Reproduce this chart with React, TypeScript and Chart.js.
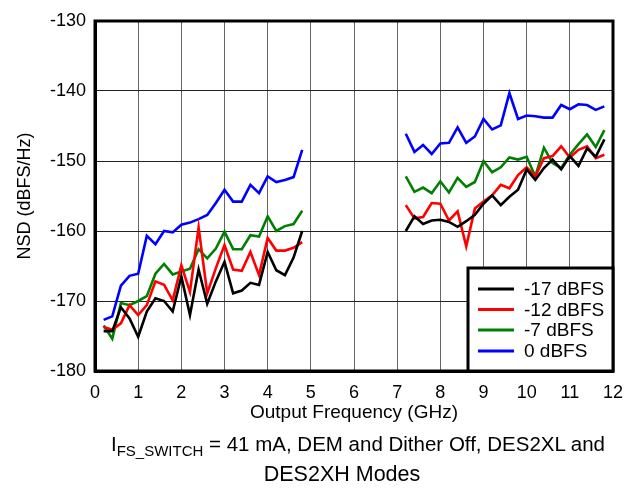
import React, { useEffect, useRef } from "react";
import { Chart, registerables } from "chart.js";

Chart.register(...registerables);

// Output frequency (GHz) of the two measured bands
const lowFreq = [0.2, 0.4, 0.6, 0.8, 1.0, 1.2, 1.4, 1.6, 1.8, 2.0, 2.2, 2.4, 2.6, 2.8, 3.0, 3.2, 3.4, 3.6, 3.8, 4.0, 4.2, 4.4, 4.6, 4.8];
const highFreq = [7.2, 7.4, 7.6, 7.8, 8.0, 8.2, 8.4, 8.6, 8.8, 9.0, 9.2, 9.4, 9.6, 9.8, 10.0, 10.2, 10.4, 10.6, 10.8, 11.0, 11.2, 11.4, 11.6, 11.8];

// NSD (dBFS/Hz) values
const m17Low = [-174.3, -174.3, -170.9, -172.5, -175.1, -171.5, -169.6, -170.0, -171.5, -166.5, -172.0, -165.5, -170.4, -167.2, -164.4, -168.9, -168.5, -167.4, -167.7, -163.0, -165.6, -166.3, -163.8, -160.0];
const m17High = [-160.0, -157.9, -159.0, -158.5, -158.4, -158.7, -159.4, -158.6, -157.7, -156.1, -154.9, -156.3, -155.1, -154.1, -151.2, -152.7, -151.0, -149.8, -151.2, -149.3, -150.7, -148.2, -149.4, -146.9];

const m12Low = [-173.7, -174.1, -173.2, -170.6, -172.0, -170.6, -167.2, -167.7, -169.9, -164.9, -168.7, -159.5, -168.9, -165.3, -162.0, -165.5, -165.7, -163.0, -166.3, -161.0, -162.8, -162.8, -162.4, -161.6];
const m12High = [-156.3, -158.2, -158.0, -156.0, -156.1, -158.5, -157.2, -162.2, -156.8, -155.8, -154.9, -153.4, -153.9, -152.0, -150.9, -152.2, -149.6, -149.3, -147.9, -149.5, -148.4, -147.9, -149.6, -149.1];

const m7Low = [-173.5, -175.4, -170.3, -170.6, -170.0, -169.3, -166.1, -164.7, -166.2, -165.8, -165.4, -162.6, -163.9, -162.5, -160.1, -162.6, -162.6, -160.6, -160.8, -157.9, -160.0, -159.3, -159.0, -157.1];
const m7High = [-152.2, -154.4, -153.8, -154.6, -152.9, -154.5, -152.4, -153.7, -153.0, -150.0, -151.6, -150.9, -149.5, -149.8, -149.4, -152.2, -148.1, -150.3, -151.0, -149.1, -147.6, -146.2, -148.0, -145.6];

const z0Low = [-172.7, -172.2, -167.8, -166.4, -166.1, -160.7, -161.9, -160.0, -160.2, -159.1, -158.8, -158.3, -157.7, -156.0, -154.1, -155.8, -155.8, -153.4, -154.6, -152.2, -153.0, -152.7, -152.3, -148.4];
const z0High = [-146.1, -148.7, -147.7, -149.0, -147.5, -147.4, -145.2, -147.4, -146.5, -144.0, -145.5, -144.9, -140.3, -144.0, -143.5, -143.6, -143.8, -143.8, -142.0, -142.6, -141.9, -142.0, -142.7, -142.2];

const seriesLabels = ["-17 dBFS", "-12 dBFS", "-7 dBFS", "0 dBFS"];
const seriesColors = ["#000000", "#ff0000", "#008000", "#0000ff"];
const xTicks = [0, 1, 2, 3, 4, 5, 6, 7, 8, 9, 10, 11, 12];
const yTicks = [-180, -170, -160, -150, -140, -130];

const FONT = "'Liberation Sans', Arial, sans-serif";

function buildPoints(low: number[], high: number[]) {
  const pts: { x: number; y: number | null }[] = [];
  lowFreq.forEach((f, i) => pts.push({ x: f, y: low[i] }));
  pts.push({ x: 6, y: null });
  highFreq.forEach((f, i) => pts.push({ x: f, y: high[i] }));
  return pts;
}

const frameAndLegend = {
  id: "frameAndLegend",
  afterDatasetsDraw(chart: any) {
    const { ctx, chartArea } = chart;
    const { left, top, right, bottom } = chartArea;
    ctx.save();
    ctx.strokeStyle = "#000";
    ctx.lineWidth = 3;
    ctx.strokeRect(left, top, right - left, bottom - top);

    // legend box
    const bx = right - 145;
    const by = bottom - 103;
    ctx.fillStyle = "#fff";
    ctx.fillRect(bx, by, right - bx, bottom - by);
    ctx.lineWidth = 3;
    ctx.strokeRect(bx, by, right - bx, bottom - by);
    const rows = [21, 41.5, 62, 83];
    chart.data.datasets.forEach((ds: any, i: number) => {
      const y = by + rows[i];
      ctx.strokeStyle = ds.borderColor;
      ctx.lineWidth = 3;
      ctx.beginPath();
      ctx.moveTo(bx + 10, y);
      ctx.lineTo(bx + 46, y);
      ctx.stroke();
      ctx.fillStyle = "#000";
      ctx.font = `19px ${FONT}`;
      ctx.textBaseline = "middle";
      ctx.textAlign = "left";
      ctx.fillText(ds.label, bx + 56, y + 1);
    });
    ctx.restore();
  },
};

export default function App() {
  const ref = useRef<HTMLCanvasElement | null>(null);

  useEffect(() => {
    if (!ref.current) return;
    const lows = [m17Low, m12Low, m7Low, z0Low];
    const highs = [m17High, m12High, m7High, z0High];
    const chart = new Chart(ref.current, {
      type: "line",
      data: {
        datasets: seriesLabels.map((label, i) => ({
          label,
          data: buildPoints(lows[i], highs[i]),
          borderColor: seriesColors[i],
          backgroundColor: seriesColors[i],
          borderWidth: 2.6,
          pointRadius: 0,
          spanGaps: false,
          tension: 0,
        })),
      },
      options: {
        responsive: false,
        animation: false,
        devicePixelRatio: 1,
        layout: { padding: { top: 21, right: 28, bottom: 0, left: 0 } },
        plugins: { legend: { display: false }, tooltip: { enabled: false } },
        scales: {
          x: {
            type: "linear",
            min: 0,
            max: 12,
            afterBuildTicks: (s: any) => {
              s.ticks = xTicks.map((v) => ({ value: v }));
            },
            afterFit: (s: any) => {
              s.height = 121;
            },
            grid: { color: "#666", lineWidth: 1, drawTicks: false },
            border: { display: true, color: "#000", width: 3 },
            ticks: { color: "#000", font: { family: FONT, size: 18 }, padding: 11, maxRotation: 0 },
            title: {
              display: true,
              text: "Output Frequency (GHz)",
              color: "#000",
              font: { family: FONT, size: 19 },
              padding: { top: 0, bottom: 68 },
            },
          },
          y: {
            type: "linear",
            min: -180,
            max: -130,
            afterBuildTicks: (s: any) => {
              s.ticks = yTicks.map((v) => ({ value: v }));
            },
            afterFit: (s: any) => {
              s.width = 95;
            },
            grid: { color: "#222", lineWidth: 1, drawTicks: false },
            border: { display: true, color: "#000", width: 3 },
            ticks: { color: "#000", font: { family: FONT, size: 18 }, padding: 9 },
            title: {
              display: true,
              text: "NSD (dBFS/Hz)",
              color: "#000",
              font: { family: FONT, size: 18 },
              padding: { top: 14, bottom: 0 },
            },
          },
        },
      },
      plugins: [frameAndLegend],
    } as any);
    return () => chart.destroy();
  }, []);

  const captionStyle: React.CSSProperties = {
    position: "absolute",
    fontFamily: FONT,
    fontSize: 20.5,
    color: "#000",
    whiteSpace: "nowrap",
    lineHeight: "31px",
    transform: "translateX(-50%)",
  };

  return (
    <div style={{ position: "absolute", left: 0, top: 0, width: 641, height: 492, background: "#fff" }}>
      <canvas ref={ref} width={641} height={492} style={{ width: 641, height: 492, display: "block" }} />
      <div style={{ ...captionStyle, left: 358, top: 428 }}>
        I<sub style={{ fontSize: 15, verticalAlign: "-5px" }}>FS_SWITCH</sub> = 41 mA, DEM and Dither Off, DES2XL and
      </div>
      <div style={{ ...captionStyle, left: 342, top: 459, fontSize: 21.5 }}>DES2XH Modes</div>
    </div>
  );
}
